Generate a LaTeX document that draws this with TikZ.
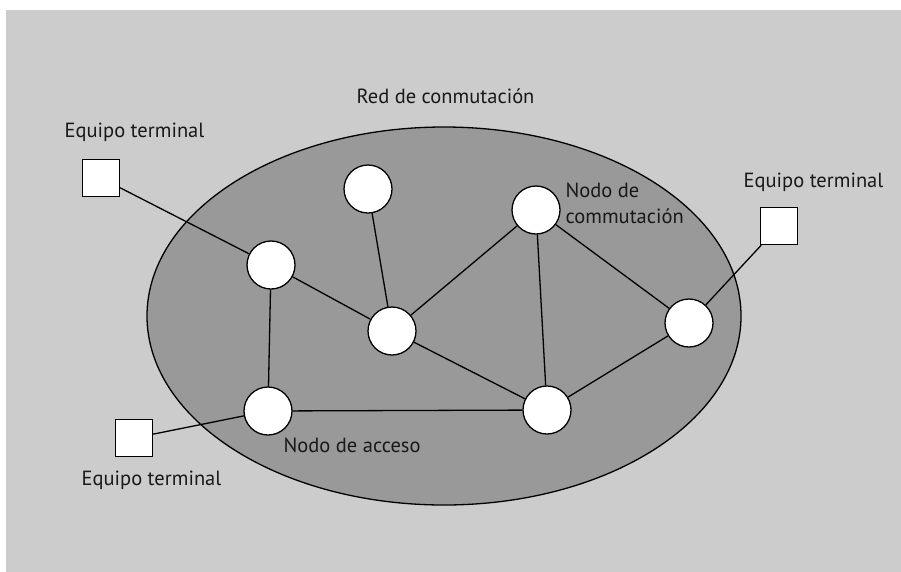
\documentclass[tikz,border=0pt]{standalone}
\usepackage{fontspec}
\setmainfont{PT Sans}
\usetikzlibrary{positioning}

\definecolor{fondo}{HTML}{CCCCCC}
\definecolor{redgris}{HTML}{999999}

\tikzset{
  nodo/.style={circle, draw, fill=white, minimum size=48pt, inner sep=0pt},
  equipo/.style={rectangle, draw, fill=white, minimum size=37pt, inner sep=0pt},
  etiqueta/.style={font=\fontsize{20.5}{26}\selectfont, text=black!90, inner sep=0pt, anchor=base west, align=left},
}

\begin{document}
\begin{tikzpicture}[x=1pt, y=-1pt, line width=1.3pt]
      \useasboundingbox (0,0) rectangle (901,571);
      \fill[white] (-5,-5) rectangle (910,580);
      \fill[fondo] (6,10) rectangle (910,580);

      \draw[fill=redgris] (444,316) ellipse [x radius=297, y radius=189];

      \node[nodo] (acc1) at (271,265) {};
      \node[nodo] (sup) at (368,189) {};
      \node[nodo] (conm) at (536,210) {};
      \node[nodo] (centro) at (392,331) {};
      \node[nodo] (der) at (689,323) {};
      \node[nodo] (acc2) at (268,411) {};
      \node[nodo] (inf) at (547,410) {};

      \node[equipo] (eq1) at (101,178) {};
      \node[equipo] (eq2) at (779,226) {};
      \node[equipo] (eq3) at (134,438) {};

      \draw (eq1) -- (acc1);
      \draw (acc1) -- (centro);
      \draw (acc1) -- (acc2);
      \draw (sup) -- (centro);
      \draw (centro) -- (conm);
      \draw (centro) -- (inf);
      \draw (conm) -- (inf);
      \draw (conm) -- (der);
      \draw (der) -- (inf);
      \draw (der) -- (eq2);
      \draw (acc2) -- (inf);
      \draw (acc2) -- (eq3);

      \node[etiqueta] (tred) at (356,103) {Red de conmutación};
      \node[etiqueta] (teq1) at (64,137) {Equipo terminal};
      \node[etiqueta] (tconm) at (565,223) {Nodo de\\commutación};
      \node[etiqueta] (teq2) at (743,187) {Equipo terminal};
      \node[etiqueta] (tacc) at (283,452) {Nodo de acceso};
      \node[etiqueta] (teq3) at (81,485) {Equipo terminal};

      % \draw[red] (444,316) circle (2);
\end{tikzpicture}
\end{document}
